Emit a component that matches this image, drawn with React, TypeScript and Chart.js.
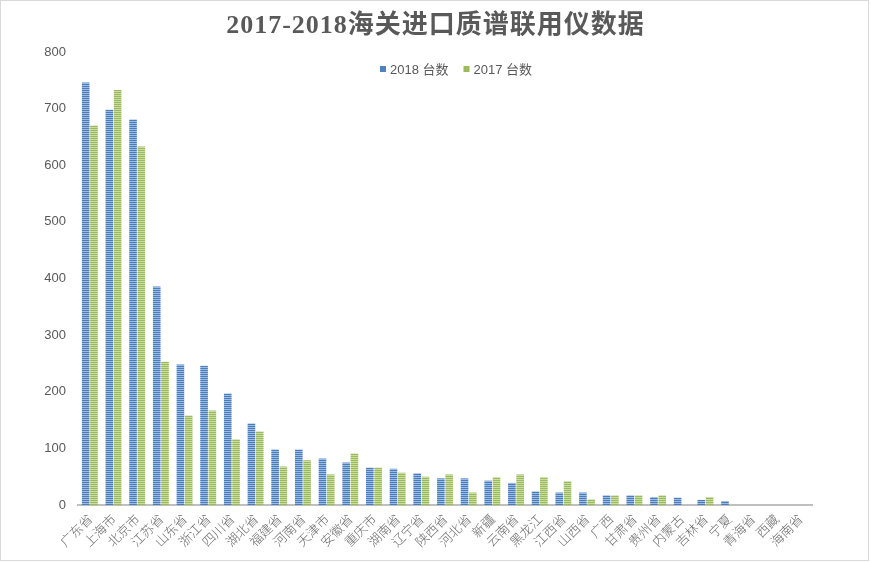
import React, { useEffect, useRef } from "react";
import { Chart, registerables } from "chart.js";

Chart.register(...registerables);

const categories = [
  "广东省", "上海市", "北京市", "江苏省", "山东省", "浙江省", "四川省", "湖北省",
  "福建省", "河南省", "天津市", "安徽省", "重庆市", "湖南省", "辽宁省", "陕西省",
  "河北省", "新疆", "云南省", "黑龙江", "江西省", "山西省", "广西", "甘肃省",
  "贵州省", "内蒙古", "吉林省", "宁夏", "青海省", "西藏", "海南省",
];

const series2018 = [
  746, 698, 681, 386, 248, 246, 197, 144, 98, 98, 82, 75, 66, 64, 56, 47,
  47, 43, 39, 24, 22, 22, 17, 17, 14, 13, 9, 7, 0, 0, 0,
];

const series2017 = [
  670, 733, 633, 253, 158, 167, 116, 130, 68, 79, 54, 91, 66, 57, 50, 54,
  22, 49, 54, 49, 42, 10, 17, 17, 17, 0, 14, 0, 0, 0, 0,
];

const yTicks = [0, 100, 200, 300, 400, 500, 600, 700, 800];

const label2018 = "2018 台数";
const label2017 = "2017 台数";
const titleText = "2017-2018海关进口质谱联用仪数据";

function stripe(dark: string, light: string): CanvasPattern | string {
  const c = document.createElement("canvas");
  c.width = 1;
  c.height = 2;
  const cx = c.getContext("2d");
  if (!cx) return dark;
  cx.fillStyle = dark;
  cx.fillRect(0, 0, 1, 1);
  cx.fillStyle = light;
  cx.fillRect(0, 1, 1, 1);
  return cx.createPattern(c, "repeat") || dark;
}

export default function App() {
  const ref = useRef<HTMLCanvasElement | null>(null);

  useEffect(() => {
    document.body.style.margin = "0";
    const canvas = ref.current;
    if (!canvas) return;
    const blue = stripe("#4a7dbb", "#9cbbe2");
    const green = stripe("#9bbb59", "#c9dca3");
    const legendSolid = ["#4f81bd", "#9bbb59"];

    const decorPlugin = {
      id: "decor",
      afterDraw(chart: any) {
        const ctx = chart.ctx as CanvasRenderingContext2D;
        ctx.save();
        // title
        ctx.font = 'bold 26px "Liberation Serif", "DejaVu Serif", "Noto Sans CJK SC", serif';
        (ctx as any).letterSpacing = "1px";
        ctx.fillStyle = "#595959";
        ctx.textAlign = "center";
        ctx.textBaseline = "middle";
        ctx.fillText(titleText, chart.width / 2, 26);
        (ctx as any).letterSpacing = "0px";
        // legend
        ctx.textAlign = "left";
        ctx.font = '13px "Liberation Sans", "Noto Sans CJK SC", sans-serif';
        const box = 6;
        const gapText = 4;
        const gapItem = 15;
        const items = chart.data.datasets.map((d: any, i: number) => ({
          label: d.label as string,
          color: legendSolid[i],
          w: box + gapText + ctx.measureText(d.label).width,
        }));
        const total = items.reduce((s: number, it: any) => s + it.w, 0) + gapItem * (items.length - 1);
        let x = 456 - total / 2;
        const y = 70;
        items.forEach((it: any) => {
          ctx.fillStyle = it.color;
          ctx.fillRect(x, y - box / 2 - 1, box, box);
          ctx.fillStyle = "#595959";
          ctx.fillText(it.label, x + box + gapText, y);
          x += it.w + gapItem;
        });
        ctx.restore();
      },
    };

    const chart = new Chart(canvas, {
      type: "bar",
      data: {
        labels: categories,
        datasets: [
          { label: label2018, data: series2018, backgroundColor: blue as any, borderWidth: 0 },
          { label: label2017, data: series2017, backgroundColor: green as any, borderWidth: 0 },
        ],
      },
      options: {
        responsive: false,
        maintainAspectRatio: false,
        animation: false,
        layout: { padding: { left: 40, right: 59, top: 52, bottom: 0 } },
        datasets: { bar: { categoryPercentage: 0.7, barPercentage: 0.92 } },
        plugins: {
          legend: { display: false },
          tooltip: { enabled: false },
          title: { display: false },
        },
        scales: {
          x: {
            grid: { display: false, drawTicks: false, tickLength: 0 },
            border: { display: true, color: "#bfbfbf", width: 2 },
            afterFit: (scale: any) => {
              scale.height = 57;
            },
            ticks: {
              autoSkip: false,
              minRotation: 45,
              maxRotation: 45,
              padding: 6,
              color: "#6b6b6b",
              font: { family: '"Noto Sans CJK SC", serif', size: 13, weight: "300" },
            },
          },
          y: {
            min: 0,
            max: 800,
            afterBuildTicks: (scale: any) => {
              scale.ticks = yTicks.map((v) => ({ value: v }));
            },
            afterFit: (scale: any) => {
              scale.width = 38;
            },
            grid: { display: false, drawTicks: false, tickLength: 0 },
            border: { display: false },
            ticks: {
              padding: 12,
              color: "#595959",
              font: { family: '"Liberation Sans", "DejaVu Sans", sans-serif', size: 13 },
            },
          },
        },
      },
      plugins: [decorPlugin],
    });
    return () => chart.destroy();
  }, []);

  return (
    <div style={{ position: "relative", width: 871, height: 562 }}>
      <canvas ref={ref} width={871} height={562} style={{ display: "block", width: 871, height: 562 }} />
      <div
        style={{
          position: "absolute",
          left: 0,
          top: 0,
          width: 869,
          height: 561,
          boxSizing: "border-box",
          border: "1px solid #d9d9d9",
          pointerEvents: "none",
        }}
      />
    </div>
  );
}
